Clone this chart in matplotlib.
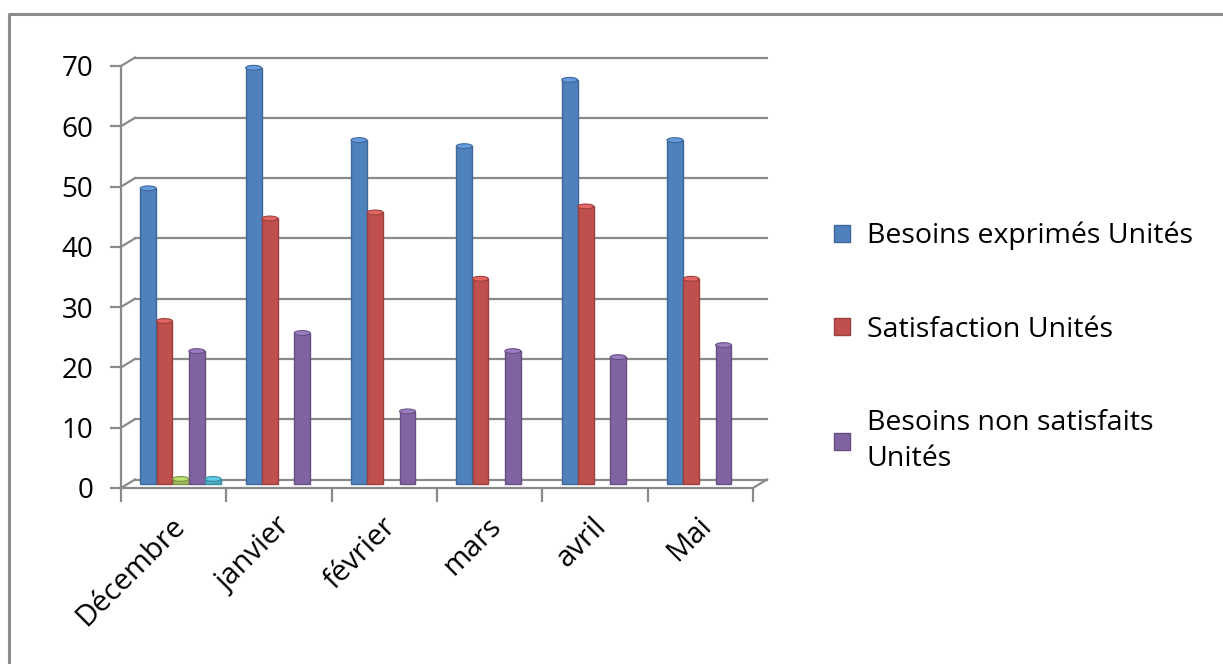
import numpy as np
import matplotlib
matplotlib.use("Agg")
import matplotlib.pyplot as plt
from matplotlib.transforms import ScaledTranslation
from matplotlib.patches import Ellipse
from matplotlib.lines import Line2D
from matplotlib.colors import to_rgb

# data
months = ["Décembre", "janvier", "février", "mars", "avril", "Mai"]
besoins = [49, 69, 57, 56, 67, 57]
satisfaction = [27, 44, 45, 34, 46, 34]
extra_a = [0.8, np.nan, np.nan, np.nan, np.nan, np.nan]
non_satisf = [22, 25, 12, 22, 21, 23]
extra_b = [0.8, np.nan, np.nan, np.nan, np.nan, np.nan]

series = [
    ("Besoins exprimés Unités", besoins, "#4F81BD"),
    ("Satisfaction Unités", satisfaction, "#C0504D"),
    (None, extra_a, "#9BBB59"),
    ("Besoins non satisfaits\nUnités", non_satisf, "#8064A2"),
    (None, extra_b, "#4BACC6"),
]

plt.rcParams["font.family"] = ["Open Sans", "DejaVu Sans"]
grid_col = "#8a8a8a"

W, H, DPI = 1223, 664, 100
fig = plt.figure(figsize=(W / DPI, H / DPI), dpi=DPI)
ax = fig.add_axes([121 / W, 1 - 488 / H, (753 - 121) / W, (488 - 66) / H])
ax.set_xlim(0, len(months))
ax.set_ylim(0, 70)
for s in ax.spines.values():
    s.set_visible(False)

# 3D-ish depth: back wall shifted right/up, bars sit in the middle
back = ax.transData + ScaledTranslation(14 / DPI, 8.5 / DPI, fig.dpi_scale_trans)
mid = ax.transData + ScaledTranslation(7 / DPI, 4.25 / DPI, fig.dpi_scale_trans)

yt = np.arange(0, 71, 10)
for y in yt:
    ax.plot([0, len(months)], [y, y], color=grid_col, lw=1.6,
            transform=back, clip_on=False, zorder=1)
    # connector from the axis to the back wall
    p0 = ax.transData.transform((0, y))
    p1 = back.transform((0, y))
    fig.add_artist(Line2D([p0[0] / W, p1[0] / W], [p0[1] / H, p1[1] / H],
                          color=grid_col, lw=1.6))
# front floor edge and right corner
ax.plot([0, len(months)], [0, 0], color=grid_col, lw=1.6, clip_on=False, zorder=1)
q0 = ax.transData.transform((len(months), 0))
q1 = back.transform((len(months), 0))
fig.add_artist(Line2D([q0[0] / W, q1[0] / W], [q0[1] / H, q1[1] / H],
                      color=grid_col, lw=1.6))
ax.plot([0, 0], [0, 70], color=grid_col, lw=1.6, clip_on=False, zorder=1)

# bars
n = len(series)
w = 1 / (n + 1.5)
x = np.arange(len(months)) + 0.5
handles = []
for j, (label, vals, col) in enumerate(series):
    xs = x + (j - (n - 1) / 2) * w
    dark = tuple(c * 0.8 for c in to_rgb(col))
    light = tuple(min(1, c * 1.12 + 0.05) for c in to_rgb(col))
    bars = ax.bar(xs, vals, w * 0.98, color=col, edgecolor=dark, lw=1.0,
                  zorder=3, label=label)
    for p in bars:
        p.set_transform(mid)
        p.set_clip_on(False)
    for xi, v in zip(xs, vals):
        if np.isnan(v):
            continue
        e = Ellipse((xi, v), w * 0.98, 0.8, facecolor=light, edgecolor=dark,
                    lw=0.8, transform=mid, zorder=4, clip_on=False)
        ax.add_patch(e)
    if label:
        handles.append((bars, label))

# ticks
ax.set_yticks(yt)
ax.set_yticklabels([str(v) for v in yt], fontsize=20)
ax.tick_params(axis="y", length=8, width=1.6, color=grid_col, pad=12)
ax.set_xticks(np.arange(len(months) + 1))
ax.set_xticklabels([])
ax.tick_params(axis="x", which="major", length=10, width=1.6, color=grid_col)
ax.set_xticks(x - 0.03, minor=True)
ax.set_xticklabels(months, minor=True, fontsize=21, rotation=45,
                   ha="right", va="top", rotation_mode="anchor")
ax.tick_params(axis="x", which="minor", length=0, pad=17)

fig.legend([h for h, _ in handles], [l for _, l in handles],
           loc="upper left", bbox_to_anchor=(834 / W, 1 - 222 / H),
           frameon=False, fontsize=20.5, handlelength=0.55, handleheight=0.55,
           handletextpad=0.6, labelspacing=2.3, borderpad=0, borderaxespad=0)
plt.setp(fig.legends[0].get_texts(), linespacing=1.35)

# outer chart frame (left and top edges visible)
fig.add_artist(Line2D([9 / W, 9 / W, 1.0], [0.0, 1 - 14 / H, 1 - 14 / H],
                      color="#8c8c8c", lw=2.2))

fig.savefig("out.png", dpi=DPI)
